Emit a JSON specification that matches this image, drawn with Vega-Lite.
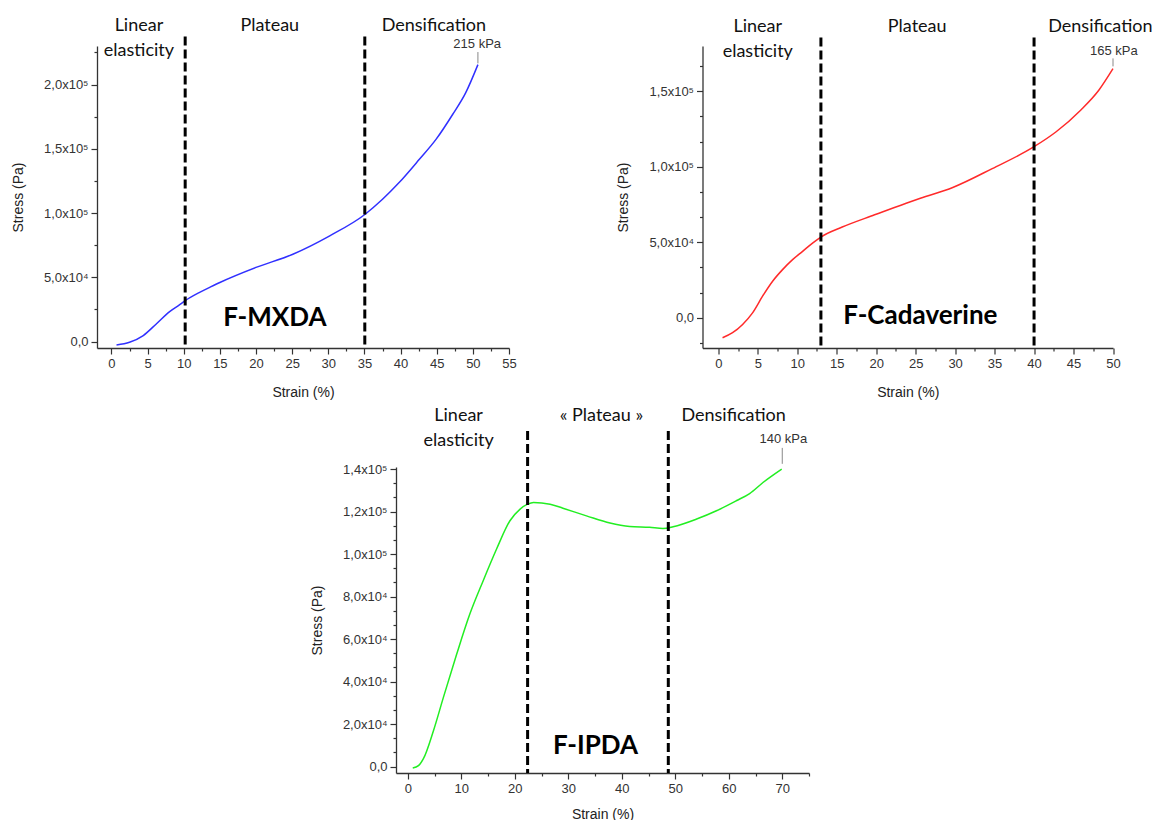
{
  "$schema": "https://vega.github.io/schema/vega-lite/v6.json",
  "background": "white",
  "padding": {"left": 11, "top": 16, "right": 0, "bottom": 0},
  "spacing": 8,
  "datasets": {
    "mxda": [
      {"strain": 0.7, "stress": -2600}, {"strain": 2.5, "stress": -500}, {"strain": 4.4, "stress": 4700},
      {"strain": 6.2, "stress": 13700}, {"strain": 8.05, "stress": 23300}, {"strain": 9.4, "stress": 28500},
      {"strain": 10.2, "stress": 31800}, {"strain": 12.2, "stress": 38300}, {"strain": 13.6, "stress": 42200},
      {"strain": 15, "stress": 46000}, {"strain": 20, "stress": 57700},
      {"strain": 25.1, "stress": 68000}, {"strain": 30.2, "stress": 82300}, {"strain": 35.1, "stress": 99100},
      {"strain": 37.5, "stress": 110700}, {"strain": 39.8, "stress": 123700}, {"strain": 42.6, "stress": 141800},
      {"strain": 44.9, "stress": 157300}, {"strain": 47.2, "stress": 176700}, {"strain": 49, "stress": 193500},
      {"strain": 50.7, "stress": 215500}
    ],
    "mxda_bounds": [{"strain": 10.2, "top": 237300, "bottom": -5000}, {"strain": 35.05, "top": 237300, "bottom": -5000}],
    "mxda_regions": [
      {"label": "Linear\nelasticity", "strain": 3.8, "stress": 242000},
      {"label": "Plateau", "strain": 21.9, "stress": 242000},
      {"label": "Densification", "strain": 44.6, "stress": 242000}
    ],
    "mxda_name": [{"label": "F-MXDA", "strain": 22.6, "stress": 12200}],
    "mxda_peak": [{"label": "215 kPa", "strain": 50.6, "stress": 228800, "lx": 50.7, "l1": 216500, "l2": 225300}],
    "cad": [
      {"strain": 0.54, "stress": -13200}, {"strain": 1.81, "stress": -9900}, {"strain": 3.08, "stress": -4400},
      {"strain": 4.34, "stress": 3300}, {"strain": 5.61, "stress": 14300}, {"strain": 6.88, "stress": 24200},
      {"strain": 8.14, "stress": 31900}, {"strain": 9.41, "stress": 38500}, {"strain": 10.68, "stress": 44000},
      {"strain": 11.94, "stress": 49500}, {"strain": 13, "stress": 53500}, {"strain": 15.7, "stress": 60100},
      {"strain": 19.8, "stress": 68200}, {"strain": 23.8, "stress": 75900}, {"strain": 25.6, "stress": 79200},
      {"strain": 29.7, "stress": 86300}, {"strain": 34.7, "stress": 98800}, {"strain": 40, "stress": 113300},
      {"strain": 42.8, "stress": 123200}, {"strain": 45.9, "stress": 137500}, {"strain": 48.2, "stress": 150700},
      {"strain": 50, "stress": 165000}
    ],
    "cad_bounds": [{"strain": 13.0, "top": 185700, "bottom": -20000}, {"strain": 40.0, "top": 185700, "bottom": -20000}],
    "cad_regions": [
      {"label": "Linear\nelasticity", "strain": 5.0, "stress": 189600},
      {"label": "Plateau", "strain": 25.2, "stress": 189600},
      {"label": "Densification", "strain": 48.4, "stress": 189600}
    ],
    "cad_name": [{"label": "F-Cadaverine", "strain": 25.6, "stress": -4400}],
    "cad_peak": [{"label": "165 kPa", "strain": 50.1, "stress": 173800, "lx": 50.0, "l1": 166500, "l2": 171800}],
    "ipda": [
      {"strain": 0.93, "stress": -630}, {"strain": 2, "stress": 470}, {"strain": 2.9, "stress": 3600},
      {"strain": 4.8, "stress": 16900}, {"strain": 6.66, "stress": 32600}, {"strain": 9.15, "stress": 53000},
      {"strain": 11.6, "stress": 71800}, {"strain": 14.1, "stress": 87500}, {"strain": 16.6, "stress": 102400},
      {"strain": 19.1, "stress": 115700}, {"strain": 21, "stress": 121200}, {"strain": 22.4, "stress": 123500},
      {"strain": 23.5, "stress": 124300}, {"strain": 26.6, "stress": 123500}, {"strain": 29, "stress": 121600},
      {"strain": 33.4, "stress": 118000}, {"strain": 37.8, "stress": 114600}, {"strain": 41.5, "stress": 113000},
      {"strain": 45.2, "stress": 112600}, {"strain": 47.7, "stress": 112100}, {"strain": 49.6, "stress": 112900},
      {"strain": 54, "stress": 116500}, {"strain": 57.7, "stress": 120400}, {"strain": 61.4, "stress": 125100},
      {"strain": 63.9, "stress": 128500}, {"strain": 66.4, "stress": 133700}, {"strain": 69.9, "stress": 140000}
    ],
    "ipda_bounds": [{"strain": 22.4, "top": 158000, "bottom": -3000}, {"strain": 48.7, "top": 158000, "bottom": -3000}],
    "ipda_regions": [
      {"label": "Linear\nelasticity", "strain": 9.5, "stress": 162500},
      {"label": "« Plateau »", "strain": 36.2, "stress": 162500},
      {"label": "Densification", "strain": 60.9, "stress": 162500}
    ],
    "ipda_name": [{"label": "F-IPDA", "strain": 35.1, "stress": 6000}],
    "ipda_peak": [{"label": "140 kPa", "strain": 70.2, "stress": 152100, "lx": 70.0, "l1": 142500, "l2": 150000}],
    "blank": [{}]
  },
  "vconcat": [
    {
      "spacing": 99.5,
      "hconcat": [
        {
          "width": 412, "height": 302,
          "resolve": {"axis": {"x": "independent", "y": "independent"}},
          "layer": [
            {
              "data": {"name": "mxda"},
              "mark": {"type": "line", "color": "#3030ff", "strokeWidth": 1.5, "interpolate": "monotone"},
              "encoding": {
                "x": {"field": "strain", "type": "quantitative", "scale": {"domain": [-2, 55], "nice": false, "zero": false},
                  "axis": {"orient": "bottom", "title": "Strain (%)", "values": [0,5,10,15,20,25,30,35,40,45,50,55], "format": "d", "titlePadding": 15}},
                "y": {"field": "stress", "type": "quantitative", "scale": {"domain": [-5000, 230000], "nice": false, "zero": false},
                  "axis": {"orient": "left", "title": "Stress (Pa)", "values": [0,50000,100000,150000,200000],
                    "labelExpr": "datum.value == 0 ? '0,0' : abs(datum.value) < 100000 ? replace(format(datum.value / 10000, '.1f'), '.', ',') + 'x10⁴' : replace(format(datum.value / 100000, '.1f'), '.', ',') + 'x10⁵'",
                    "titlePadding": 18}}
              }
            },
            {
              "data": {"name": "mxda_bounds"},
              "mark": {"type": "rule", "color": "black", "strokeWidth": 3, "strokeDash": [9, 4]},
              "encoding": {
                "x": {"field": "strain", "type": "quantitative",
                  "axis": {"orient": "bottom", "title": null, "labels": false, "domain": false, "tickSize": 3, "values": [2.5,7.5,12.5,17.5,22.5,27.5,32.5,37.5,42.5,47.5,52.5]}},
                "y": {"field": "top", "type": "quantitative",
                  "axis": {"orient": "left", "title": null, "labels": false, "domain": false, "tickSize": 3, "values": [25000,75000,125000,175000,225000]}},
                "y2": {"field": "bottom"}
              }
            },
            {
              "data": {"name": "mxda_peak"},
              "mark": {"type": "rule", "color": "#888", "strokeWidth": 1},
              "encoding": {"x": {"field": "lx", "type": "quantitative", "axis": null}, "y": {"field": "l1", "type": "quantitative", "axis": null}, "y2": {"field": "l2"}}
            },
            {
              "data": {"name": "mxda_peak"},
              "mark": {"type": "text", "font": "Liberation Sans", "fontSize": 13, "color": "#333", "align": "center", "baseline": "alphabetic"},
              "encoding": {"x": {"field": "strain", "type": "quantitative", "axis": null}, "y": {"field": "stress", "type": "quantitative", "axis": null}, "text": {"field": "label"}}
            },
            {
              "data": {"name": "mxda_regions"},
              "mark": {"type": "text", "font": "Lato", "fontSize": 18, "color": "#111", "align": "center", "baseline": "alphabetic", "lineBreak": "\n", "lineHeight": 25},
              "encoding": {"x": {"field": "strain", "type": "quantitative", "axis": null}, "y": {"field": "stress", "type": "quantitative", "axis": null}, "text": {"field": "label"}}
            },
            {
              "data": {"name": "mxda_name"},
              "mark": {"type": "text", "font": "Lato", "fontSize": 26, "fontWeight": "bold", "color": "black", "align": "center", "baseline": "alphabetic"},
              "encoding": {"x": {"field": "strain", "type": "quantitative", "axis": null}, "y": {"field": "stress", "type": "quantitative", "axis": null}, "text": {"field": "label"}}
            }
          ]
        },
        {
          "width": 410.5, "height": 302,
          "resolve": {"axis": {"x": "independent", "y": "independent"}},
          "layer": [
            {
              "data": {"name": "cad"},
              "mark": {"type": "line", "color": "#ff2a2a", "strokeWidth": 1.5, "interpolate": "monotone"},
              "encoding": {
                "x": {"field": "strain", "type": "quantitative", "scale": {"domain": [-2, 50], "nice": false, "zero": false},
                  "axis": {"orient": "bottom", "title": "Strain (%)", "values": [0,5,10,15,20,25,30,35,40,45,50], "format": "d", "titlePadding": 15}},
                "y": {"field": "stress", "type": "quantitative", "scale": {"domain": [-20000, 180000], "nice": false, "zero": false},
                  "axis": {"orient": "left", "title": "Stress (Pa)", "values": [0,50000,100000,150000],
                    "labelExpr": "datum.value == 0 ? '0,0' : abs(datum.value) < 100000 ? replace(format(datum.value / 10000, '.1f'), '.', ',') + 'x10⁴' : replace(format(datum.value / 100000, '.1f'), '.', ',') + 'x10⁵'",
                    "titlePadding": 18}}
              }
            },
            {
              "data": {"name": "cad_bounds"},
              "mark": {"type": "rule", "color": "black", "strokeWidth": 3, "strokeDash": [9, 4]},
              "encoding": {
                "x": {"field": "strain", "type": "quantitative",
                  "axis": {"orient": "bottom", "title": null, "labels": false, "domain": false, "tickSize": 3, "values": [2.5,7.5,12.5,17.5,22.5,27.5,32.5,37.5,42.5,47.5]}},
                "y": {"field": "top", "type": "quantitative",
                  "axis": {"orient": "left", "title": null, "labels": false, "domain": false, "tickSize": 3, "values": [-16666.67,16666.67,33333.33,66666.67,83333.33,116666.67,133333.33,166666.67]}},
                "y2": {"field": "bottom"}
              }
            },
            {
              "data": {"name": "cad_peak"},
              "mark": {"type": "rule", "color": "#888", "strokeWidth": 1},
              "encoding": {"x": {"field": "lx", "type": "quantitative", "axis": null}, "y": {"field": "l1", "type": "quantitative", "axis": null}, "y2": {"field": "l2"}}
            },
            {
              "data": {"name": "cad_peak"},
              "mark": {"type": "text", "font": "Liberation Sans", "fontSize": 13, "color": "#333", "align": "center", "baseline": "alphabetic"},
              "encoding": {"x": {"field": "strain", "type": "quantitative", "axis": null}, "y": {"field": "stress", "type": "quantitative", "axis": null}, "text": {"field": "label"}}
            },
            {
              "data": {"name": "cad_regions"},
              "mark": {"type": "text", "font": "Lato", "fontSize": 18, "color": "#111", "align": "center", "baseline": "alphabetic", "lineBreak": "\n", "lineHeight": 25},
              "encoding": {"x": {"field": "strain", "type": "quantitative", "axis": null}, "y": {"field": "stress", "type": "quantitative", "axis": null}, "text": {"field": "label"}}
            },
            {
              "data": {"name": "cad_name"},
              "mark": {"type": "text", "font": "Lato", "fontSize": 26, "fontWeight": "bold", "color": "black", "align": "center", "baseline": "alphabetic"},
              "encoding": {"x": {"field": "strain", "type": "quantitative", "axis": null}, "y": {"field": "stress", "type": "quantitative", "axis": null}, "text": {"field": "label"}}
            }
          ]
        }
      ]
    },
    {
      "spacing": 0,
      "hconcat": [
        {
          "width": 213, "height": 1,
          "view": {"fill": "white", "stroke": null},
          "data": {"name": "blank"},
          "mark": {"type": "point", "opacity": 0}
        },
        {
          "width": 413, "height": 306,
          "resolve": {"axis": {"x": "independent", "y": "independent"}},
          "layer": [
            {
              "data": {"name": "ipda"},
              "mark": {"type": "line", "color": "#22ee22", "strokeWidth": 1.5, "interpolate": "monotone"},
              "encoding": {
                "x": {"field": "strain", "type": "quantitative", "scale": {"domain": [-2.2, 75], "nice": false, "zero": false},
                  "axis": {"orient": "bottom", "title": "Strain (%)", "values": [0,10,20,30,40,50,60,70], "format": "d", "titlePadding": 12}},
                "y": {"field": "stress", "type": "quantitative", "scale": {"domain": [-3000, 141000], "nice": false, "zero": false},
                  "axis": {"orient": "left", "title": "Stress (Pa)", "values": [0,20000,40000,60000,80000,100000,120000,140000],
                    "labelExpr": "datum.value == 0 ? '0,0' : abs(datum.value) < 100000 ? replace(format(datum.value / 10000, '.1f'), '.', ',') + 'x10⁴' : replace(format(datum.value / 100000, '.1f'), '.', ',') + 'x10⁵'",
                    "titlePadding": 18}}
              }
            },
            {
              "data": {"name": "ipda_bounds"},
              "mark": {"type": "rule", "color": "black", "strokeWidth": 3, "strokeDash": [9, 4]},
              "encoding": {
                "x": {"field": "strain", "type": "quantitative",
                  "axis": {"orient": "bottom", "title": null, "labels": false, "domain": false, "tickSize": 3, "values": [5,15,25,35,45,55,65,75]}},
                "y": {"field": "top", "type": "quantitative",
                  "axis": {"orient": "left", "title": null, "labels": false, "domain": false, "tickSize": 3, "values": [6666.67,13333.33,26666.67,33333.33,46666.67,53333.33,66666.67,73333.33,86666.67,93333.33,106666.67,113333.33,126666.67,133333.33]}},
                "y2": {"field": "bottom"}
              }
            },
            {
              "data": {"name": "ipda_peak"},
              "mark": {"type": "rule", "color": "#888", "strokeWidth": 1},
              "encoding": {"x": {"field": "lx", "type": "quantitative", "axis": null}, "y": {"field": "l1", "type": "quantitative", "axis": null}, "y2": {"field": "l2"}}
            },
            {
              "data": {"name": "ipda_peak"},
              "mark": {"type": "text", "font": "Liberation Sans", "fontSize": 13, "color": "#333", "align": "center", "baseline": "alphabetic"},
              "encoding": {"x": {"field": "strain", "type": "quantitative", "axis": null}, "y": {"field": "stress", "type": "quantitative", "axis": null}, "text": {"field": "label"}}
            },
            {
              "data": {"name": "ipda_regions"},
              "mark": {"type": "text", "font": "Lato", "fontSize": 18, "color": "#111", "align": "center", "baseline": "alphabetic", "lineBreak": "\n", "lineHeight": 25},
              "encoding": {"x": {"field": "strain", "type": "quantitative", "axis": null}, "y": {"field": "stress", "type": "quantitative", "axis": null}, "text": {"field": "label"}}
            },
            {
              "data": {"name": "ipda_name"},
              "mark": {"type": "text", "font": "Lato", "fontSize": 26, "fontWeight": "bold", "color": "black", "align": "center", "baseline": "alphabetic"},
              "encoding": {"x": {"field": "strain", "type": "quantitative", "axis": null}, "y": {"field": "stress", "type": "quantitative", "axis": null}, "text": {"field": "label"}}
            }
          ]
        }
      ]
    }
  ],
  "config": {
    "view": {"stroke": null},
    "axis": {
      "grid": false, "domainColor": "#333", "domainWidth": 1.3, "tickColor": "#333", "tickWidth": 1.2, "tickSize": 6,
      "labelColor": "#333", "labelFont": "Liberation Sans", "labelFontSize": 13, "labelPadding": 3,
      "labelOverlap": false, "labelFlush": false, "labelBound": false,
      "titleFont": "Liberation Sans", "titleFontSize": 14, "titleFontWeight": "normal", "titleColor": "#222"
    }
  }
}
